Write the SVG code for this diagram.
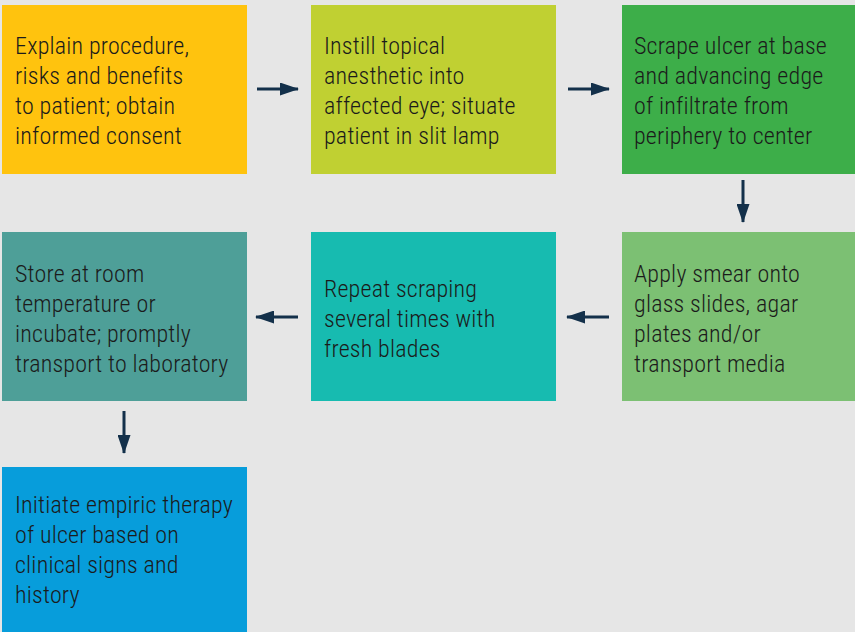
<svg xmlns="http://www.w3.org/2000/svg" width="855" height="632" viewBox="0 0 855 632">
<style>
text{font-family:Roboto,"Liberation Sans",sans-serif;font-weight:300;font-size:24px;fill:#1b1b1b;font-stretch:condensed;letter-spacing:0.2px}
.c{stroke:#13304a;stroke-width:3;fill:none}
</style>
<defs>
<marker id="ah" markerWidth="19" markerHeight="13" refX="18" refY="6.5" orient="auto" markerUnits="userSpaceOnUse"><path d="M0,0 L19,6.5 L0,13 Z" fill="#13304a"/></marker>
</defs>
<rect width="855" height="632" fill="#e6e6e6"/>
<g id="n1"><rect x="2" y="5" width="245" height="169" fill="#ffc30e"/>
<text x="15" y="54">Explain procedure,</text><text x="15" y="84">risks and benefits</text><text x="15" y="114">to patient; obtain</text><text x="15" y="144">informed consent</text></g>
<g id="n2"><rect x="311" y="5" width="245" height="169" fill="#c0d032"/>
<text x="324" y="54">Instill topical</text><text x="324" y="84">anesthetic into</text><text x="324" y="114">affected eye; situate</text><text x="324" y="144">patient in slit lamp</text></g>
<g id="n3"><rect x="622" y="5" width="245" height="169" fill="#3dae49"/>
<text x="634" y="54">Scrape ulcer at base</text><text x="634" y="84">and advancing edge</text><text x="634" y="114">of infiltrate from</text><text x="634" y="144">periphery to center</text></g>
<g id="n4"><rect x="622" y="232" width="245" height="169" fill="#7cc073"/>
<text x="634" y="282">Apply smear onto</text><text x="634" y="312">glass slides, agar</text><text x="634" y="342">plates and/or</text><text x="634" y="372">transport media</text></g>
<g id="n5"><rect x="311" y="232" width="245" height="169" fill="#17bbb0"/>
<text x="324" y="297">Repeat scraping</text><text x="324" y="327">several times with</text><text x="324" y="357">fresh blades</text></g>
<g id="n6"><rect x="2" y="232" width="245" height="169" fill="#4e9f98"/>
<text x="15" y="282">Store at room</text><text x="15" y="312">temperature or</text><text x="15" y="342">incubate; promptly</text><text x="15" y="372">transport to laboratory</text></g>
<g id="n7"><rect x="2" y="467" width="245" height="170" fill="#079ddb"/>
<text x="15" y="513">Initiate empiric therapy</text><text x="15" y="543">of ulcer based on</text><text x="15" y="573">clinical signs and</text><text x="15" y="603">history</text></g>
<g id="connectors">
<line class="c" x1="257" y1="89" x2="298" y2="89" marker-end="url(#ah)"/>
<line class="c" x1="568" y1="89" x2="609" y2="89" marker-end="url(#ah)"/>
<line class="c" x1="743" y1="180" x2="743" y2="222" marker-end="url(#ah)"/>
<line class="c" x1="609" y1="317" x2="567" y2="317" marker-end="url(#ah)"/>
<line class="c" x1="298" y1="317" x2="256" y2="317" marker-end="url(#ah)"/>
<line class="c" x1="124" y1="411" x2="124" y2="453" marker-end="url(#ah)"/>
</g>
</svg>
